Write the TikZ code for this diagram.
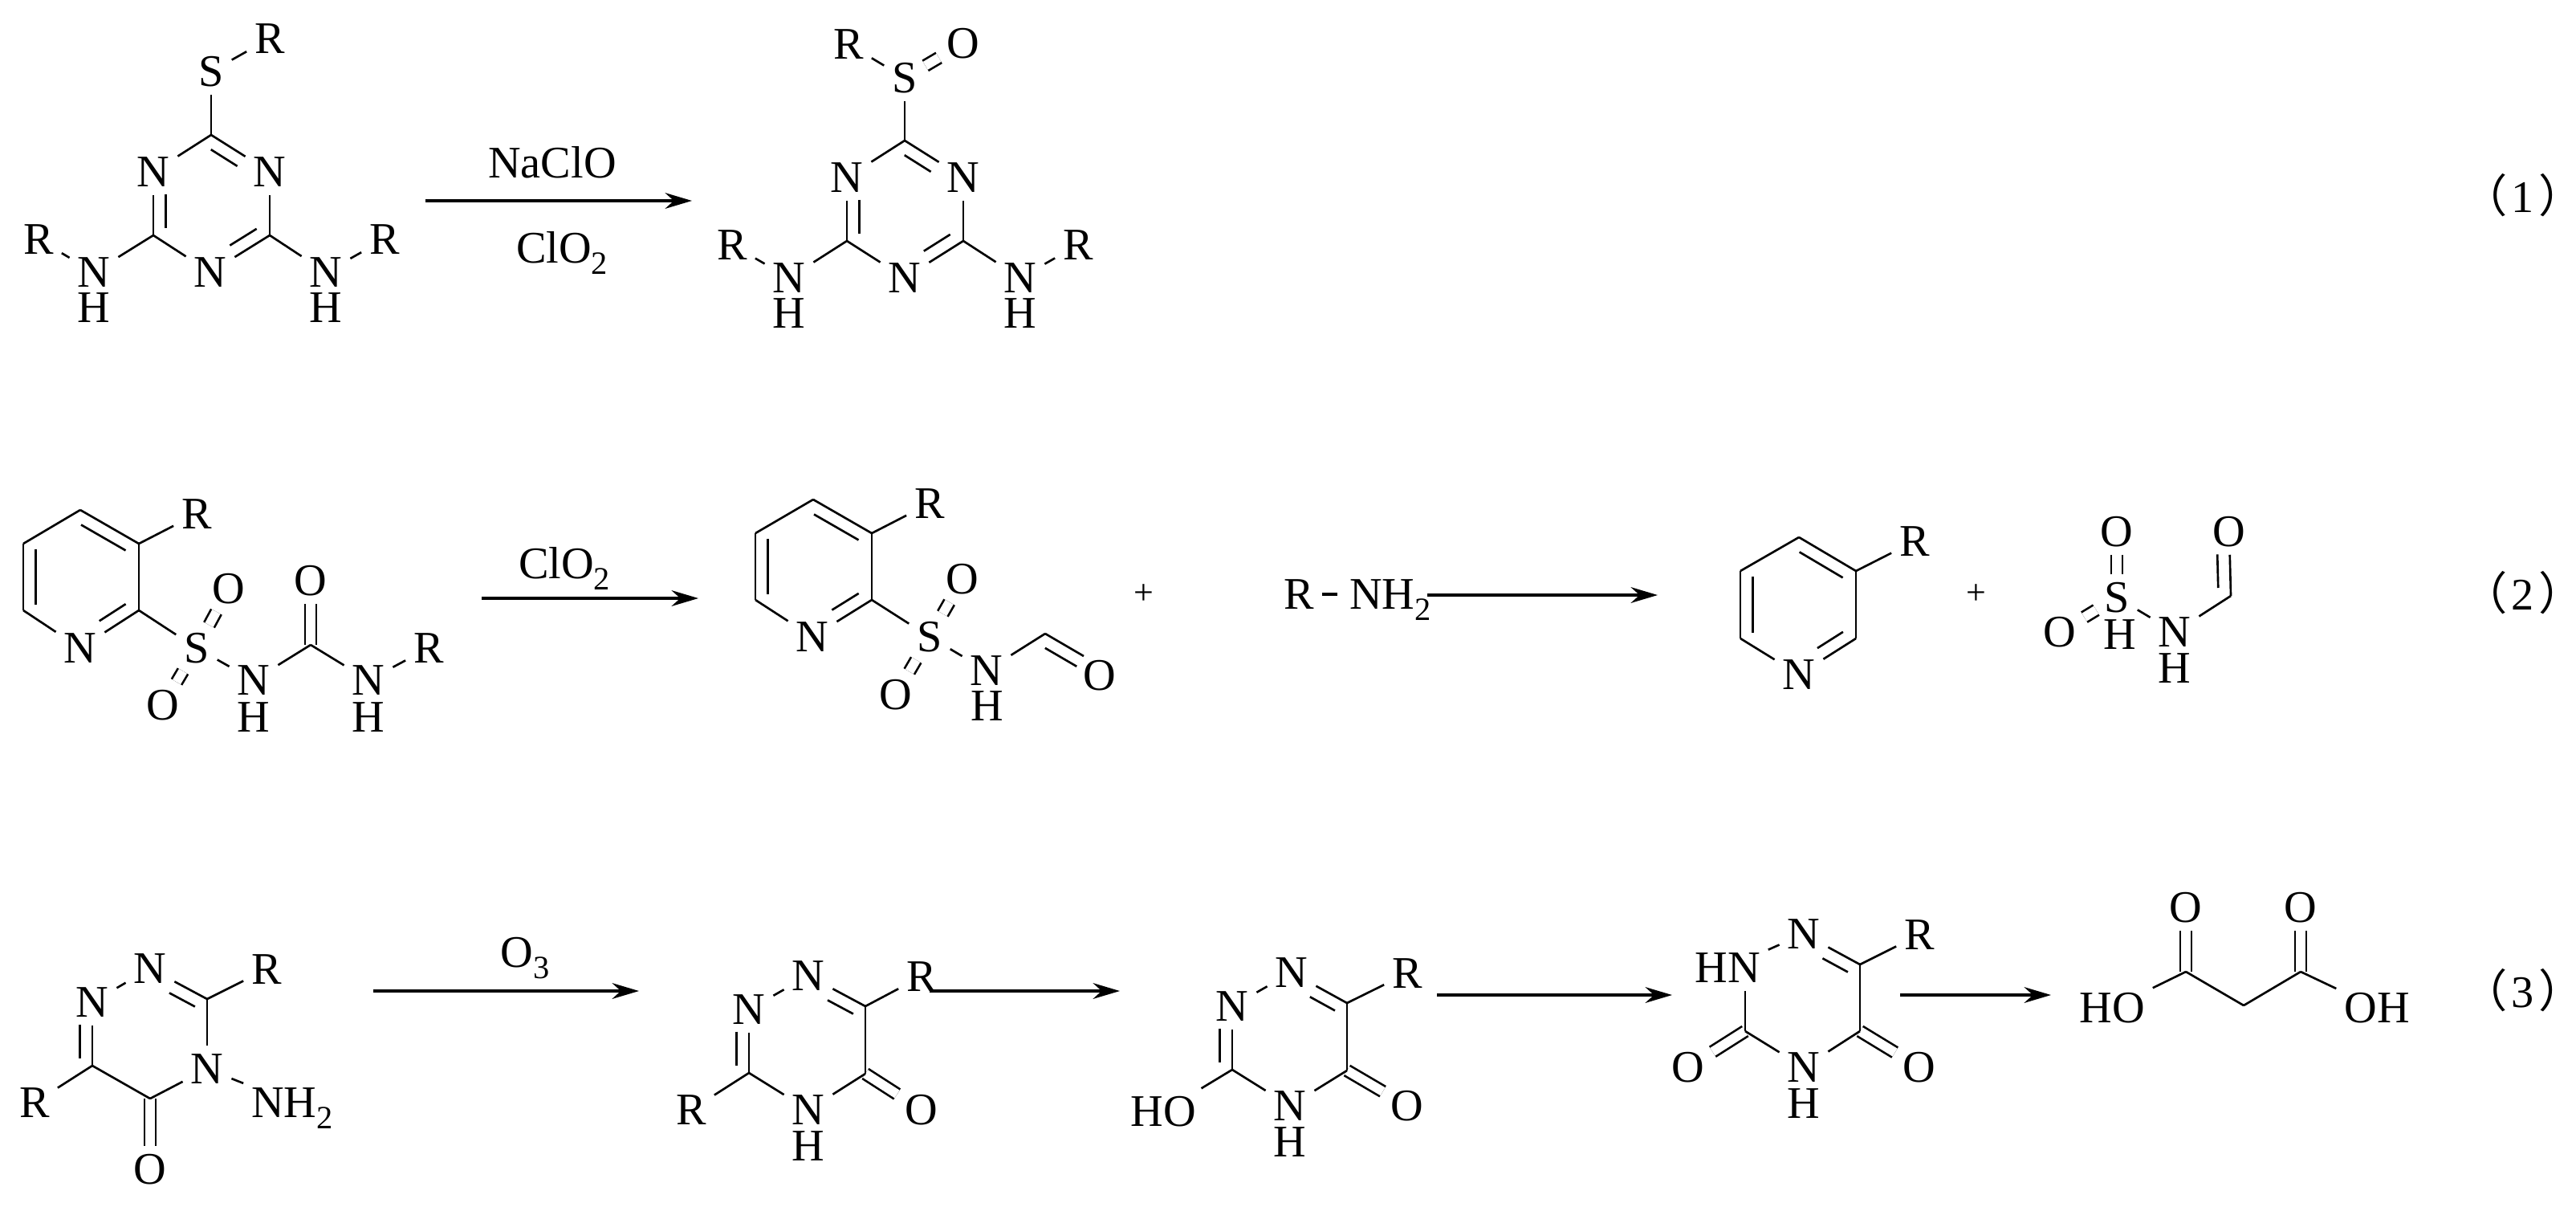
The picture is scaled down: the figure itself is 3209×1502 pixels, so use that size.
\documentclass[tikz,border=0pt]{standalone}
\usepackage{fontspec}
\setmainfont{Liberation Serif}
\newfontfamily\cjk{Noto Sans CJK SC}
\usepackage{tikz}
\usetikzlibrary{positioning,arrows.meta,calc}
\tikzset{every picture/.style={line width=0.75pt}}
\tikzset{every node/.style={font=\fontsize{16}{19}\selectfont}}
\tikzset{atom/.style={inner sep=2.5pt,text height=10.6pt,text depth=0pt}}
\tikzset{rxn/.style={line width=1.1pt,-{Stealth[length=9.5pt,width=5.6pt]}}}
\tikzset{twobond/.style={double,double distance=0.115cm}}
\tikzset{plussign/.style={font=\fontsize{12.5}{14}\selectfont}}
\tikzset{numlabel/.style={inner sep=0pt}}
\newcommand{\low}[1]{\raisebox{-0.24em}{\fontsize{11.5}{12}\selectfont #1}}
\newcommand{\wide}[1]{\kern-0.35em{\cjk （}\kern1.5pt #1\kern1.5pt{\cjk ）}\kern-0.35em}
\newcommand{\inbond}[5]{\draw (#1) -- (#2); \draw ($(#1)!#3!(#2)!0.155cm!#5:(#2)$) -- ($(#1)!#4!(#2)!0.155cm!#5:(#2)$);}
\begin{document}
\begin{tikzpicture}[x=0.01cm,y=-0.01cm]
\useasboundingbox (0,0) rectangle (3209,1502);
\node[atom] (aS) at (263,89) {S};
\node[atom] (aR) at (336,48) {R};
\node[atom] (aN1) at (191,214) {N};
\node[atom] (aN2) at (336,214) {N};
\node[atom] (aN3) at (262,339) {N};
\node[atom] (aN4) at (117,339) {N};
\node[atom] (aH4) at (117,383) {H};
\node[atom] (aR4) at (48,298) {R};
\node[atom] (aN5) at (406,339) {N};
\node[atom] (aH5) at (406,383) {H};
\node[atom] (aR5) at (479,298) {R};
\coordinate (a1) at (263,168);
\coordinate (a2) at (191,293);
\coordinate (a3) at (336,293);
\draw (aS) -- (aR);
\draw (aS) -- (a1);
\draw (a1) -- (aN1);
\inbond{a1}{aN2}{0.11}{0.56}{-90}
\inbond{aN1}{a2}{0.35}{0.89}{90}
\draw (aN2) -- (a3);
\draw (a2) -- (aN3);
\inbond{a3}{aN3}{0.11}{0.56}{-90}
\draw (a2) -- (aN4);
\draw (a3) -- (aN5);
\draw (aN4) -- (aR4);
\draw (aN5) -- (aR5);
\coordinate (r1) at (530,250);
\coordinate (r2) at (862,250);
\draw[rxn] (r1) -- (r2);
\node (naclo) at (688,202) {NaClO};
\node (clo1) at (700,315) {ClO\low{2}};
\node[atom] (bS) at (1127,97) {S};
\node[atom] (bR) at (1057,55) {R};
\node[atom] (bO) at (1200,54) {O};
\node[atom] (bN1) at (1055,221) {N};
\node[atom] (bN2) at (1200,221) {N};
\node[atom] (bN3) at (1127,346) {N};
\node[atom] (bN4) at (983,346) {N};
\node[atom] (bH4) at (983,390) {H};
\node[atom] (bR4) at (912,305) {R};
\node[atom] (bN5) at (1271,346) {N};
\node[atom] (bH5) at (1271,390) {H};
\node[atom] (bR5) at (1343,305) {R};
\coordinate (b1) at (1127,175);
\coordinate (b2) at (1055,300);
\coordinate (b3) at (1200,300);
\draw[twobond] (bS) -- (bO);
\draw (bS) -- (bR);
\draw (bS) -- (b1);
\draw (b1) -- (bN1);
\inbond{b1}{bN2}{0.11}{0.56}{-90}
\inbond{bN1}{b2}{0.35}{0.89}{90}
\draw (bN2) -- (b3);
\draw (b2) -- (bN3);
\inbond{b3}{bN3}{0.11}{0.56}{-90}
\draw (b2) -- (bN4);
\draw (b3) -- (bN5);
\draw (bN4) -- (bR4);
\draw (bN5) -- (bR5);
\node[numlabel] (lab1) at (3143,243) {\wide{1}};
\node[atom] (cN) at (100,807) {N};
\node[atom] (cR) at (245,640) {R};
\node[atom] (cS) at (245,807) {S};
\node[atom] (cO1) at (285,733) {O};
\node[atom] (cO2) at (203,878) {O};
\node[atom] (cN1) at (316,847) {N};
\node[atom] (cH1) at (316,893) {H};
\node[atom] (cO3) at (387,723) {O};
\node[atom] (cN2) at (459,847) {N};
\node[atom] (cH2) at (459,893) {H};
\node[atom] (cR2) at (534,807) {R};
\coordinate (c1) at (100,635);
\coordinate (c2) at (173,677);
\coordinate (c3) at (173,760);
\coordinate (c5) at (29,760);
\coordinate (c6) at (29,677);
\coordinate (c7) at (387,803);
\draw[twobond] (cS) -- (cO1);
\draw[twobond] (cS) -- (cO2);
\draw[twobond] (c7) -- (cO3);
\inbond{c1}{c2}{0.12}{0.88}{-90}
\inbond{c6}{c5}{0.08}{0.92}{90}
\inbond{c3}{cN}{0.11}{0.56}{-90}
\draw (c1) -- (c6);
\draw (c2) -- (c3);
\draw (c5) -- (cN);
\draw (c2) -- (cR);
\draw (c3) -- (cS);
\draw (cS) -- (cN1);
\draw (cN1) -- (c7);
\draw (c7) -- (cN2);
\draw (cN2) -- (cR2);
\coordinate (r3) at (600,745);
\coordinate (r4) at (870,745);
\draw[rxn] (r3) -- (r4);
\node (clo2) at (703,708) {ClO\low{2}};
\node[atom] (dN) at (1012,793) {N};
\node[atom] (dR) at (1158,627) {R};
\node[atom] (dS) at (1158,793) {S};
\node[atom] (dO1) at (1199,721) {O};
\node[atom] (dO2) at (1116,865) {O};
\node[atom] (dN1) at (1229,835) {N};
\node[atom] (dH) at (1230,879) {H};
\node[atom] (dO3) at (1370,841) {O};
\coordinate (d1) at (1013,622);
\coordinate (d2) at (1086,664);
\coordinate (d3) at (1086,747);
\coordinate (d5) at (941,747);
\coordinate (d6) at (941,664);
\coordinate (d7) at (1302,789);
\coordinate (d8) at (1350,817);
\draw[twobond] (dS) -- (dO1);
\draw[twobond] (dS) -- (dO2);
\inbond{d1}{d2}{0.12}{0.88}{-90}
\inbond{d6}{d5}{0.08}{0.92}{90}
\inbond{d3}{dN}{0.11}{0.56}{-90}
\inbond{d7}{d8}{0.16}{0.98}{-90}
\draw (d1) -- (d6);
\draw (d2) -- (d3);
\draw (d5) -- (dN);
\draw (d2) -- (dR);
\draw (d3) -- (dS);
\draw (dS) -- (dN1);
\draw (dN1) -- (d7);
\node[plussign] (plus1) at (1425,740) {+};
\node[atom] (eR) at (1618,740) {R};
\node[atom] (eN) at (1732,740) {NH\low{2}};
\draw[line width=1pt,shorten >=1.5pt] (eR) -- (eN);
\coordinate (r5) at (1778,741);
\coordinate (r6) at (2065,741);
\draw[rxn] (r5) -- (r6);
\node[atom] (fN) at (2241,840) {N};
\node[atom] (fR) at (2385,674) {R};
\coordinate (f1) at (2241,669);
\coordinate (f2) at (2312,711);
\coordinate (f3) at (2312,795);
\coordinate (f5) at (2168,795);
\coordinate (f6) at (2168,711);
\inbond{f1}{f2}{0.12}{0.88}{-90}
\inbond{f6}{f5}{0.08}{0.92}{90}
\inbond{f3}{fN}{0.11}{0.56}{-90}
\draw (f1) -- (f6);
\draw (f2) -- (f3);
\draw (f5) -- (fN);
\draw (f2) -- (fR);
\node[plussign] (plus2) at (2462,740) {+};
\node[atom] (gS) at (2637,744) {S};
\node[atom] (gO1) at (2637,662) {O};
\node[atom] (gO2) at (2566,787) {O};
\node[atom] (gH1) at (2641,790) {H};
\node[atom] (gN) at (2709,787) {N};
\node[atom] (gH2) at (2709,832) {H};
\node[atom] (gO3) at (2777,662) {O};
\coordinate (g1) at (2779,742);
\draw[twobond] (gS) -- (gO1);
\draw[twobond] (gS) -- (gO2);
\inbond{g1}{gO3}{0.13}{0.65}{90}
\draw (gS) -- (gN);
\draw (gN) -- (g1);
\node[numlabel] (lab2) at (3143,738) {\wide{2}};
\node[atom] (hN1) at (187,1206) {N};
\node[atom] (hR1) at (332,1207) {R};
\node[atom] (hN2) at (115,1248) {N};
\node[atom] (hR2) at (43,1373) {R};
\node[atom] (hO) at (187,1456) {O};
\node[atom] (hN3) at (258,1331) {N};
\node[atom] (hN4) at (364,1373) {NH\low{2}};
\coordinate (h1) at (258,1244);
\coordinate (h2) at (115,1327);
\coordinate (h3) at (187,1368);
\draw[twobond] (h3) -- (hO);
\draw (hN1) -- (hN2);
\inbond{h1}{hN1}{0.11}{0.56}{90}
\draw (h1) -- (hR1);
\draw (h1) -- (hN3);
\inbond{hN2}{h2}{0.35}{0.89}{-90}
\draw (h2) -- (hR2);
\draw (h2) -- (h3);
\draw (h3) -- (hN3);
\draw (hN3) -- (hN4);
\coordinate (r7) at (465,1234);
\coordinate (r8) at (796,1234);
\draw[rxn] (r7) -- (r8);
\node (o3) at (654,1193) {O\low{3}};
\node[atom] (iN1) at (1007,1215) {N};
\node[atom] (iR1) at (1148,1216) {R};
\node[atom] (iN2) at (933,1257) {N};
\node[atom] (iR2) at (861,1382) {R};
\node[atom] (iN3) at (1007,1382) {N};
\node[atom] (iH) at (1007,1427) {H};
\node[atom] (iO) at (1148,1382) {O};
\coordinate (i1) at (1078,1253);
\coordinate (i2) at (933,1336);
\coordinate (i3) at (1078,1337);
\draw[twobond] (i3) -- (iO);
\draw (iN1) -- (iN2);
\inbond{i1}{iN1}{0.11}{0.56}{90}
\draw (i1) -- (iR1);
\draw (i1) -- (i3);
\inbond{iN2}{i2}{0.35}{0.89}{-90}
\draw (i2) -- (iR2);
\draw (i2) -- (iN3);
\draw (i3) -- (iN3);
\coordinate (r9) at (1158,1234);
\coordinate (r10) at (1395,1234);
\draw[rxn] (r9) -- (r10);
\node[atom] (jN1) at (1609,1211) {N};
\node[atom] (jR1) at (1753,1212) {R};
\node[atom] (jN2) at (1535,1253) {N};
\node[atom] (jHO) at (1449,1384) {HO};
\node[atom] (jN3) at (1607,1377) {N};
\node[atom] (jH) at (1607,1422) {H};
\node[atom] (jO) at (1753,1377) {O};
\coordinate (j1) at (1678,1249);
\coordinate (j2) at (1535,1332);
\coordinate (j3) at (1678,1333);
\draw[twobond] (j3) -- (jO);
\draw (jN1) -- (jN2);
\inbond{j1}{jN1}{0.11}{0.56}{90}
\draw (j1) -- (jR1);
\draw (j1) -- (j3);
\inbond{jN2}{j2}{0.35}{0.89}{-90}
\draw (j2) -- (jHO);
\draw (j2) -- (jN3);
\draw (j3) -- (jN3);
\coordinate (r11) at (1790,1239);
\coordinate (r12) at (2083,1239);
\draw[rxn] (r11) -- (r12);
\node[atom] (kN1) at (2247,1163) {N};
\node[atom] (kR) at (2391,1164) {R};
\node[atom] (kHN) at (2152,1205) {HN};
\node[atom] (kO1) at (2103,1329) {O};
\node[atom] (kO2) at (2391,1329) {O};
\node[atom] (kN2) at (2247,1329) {N};
\node[atom] (kH) at (2247,1374) {H};
\coordinate (k1) at (2317,1201);
\coordinate (k2) at (2174,1284);
\coordinate (k3) at (2317,1284);
\draw[twobond] (k2) -- (kO1);
\draw[twobond] (k3) -- (kO2);
\draw (kN1) -- (kHN);
\inbond{k1}{kN1}{0.11}{0.56}{90}
\draw (k1) -- (kR);
\draw (k1) -- (k3);
\draw (kHN.south -| k2) -- (k2);
\draw (k2) -- (kN2);
\draw (k3) -- (kN2);
\coordinate (r13) at (2367,1239);
\coordinate (r14) at (2555,1239);
\draw[rxn] (r13) -- (r14);
\node[atom] (mO1) at (2723,1130) {O};
\node[atom] (mO2) at (2866,1130) {O};
\node[atom] (mHO) at (2631,1255) {HO};
\node[atom] (mOH) at (2961,1255) {OH};
\coordinate (m1) at (2723,1210);
\coordinate (m2) at (2866,1210);
\coordinate (m3) at (2795,1252);
\draw[twobond] (m1) -- (mO1);
\draw[twobond] (m2) -- (mO2);
\draw (m1) -- (mHO);
\draw (m1) -- (m3);
\draw (m3) -- (m2);
\draw (m2) -- (mOH);
\node[numlabel] (lab3) at (3143,1233) {\wide{3}};
\end{tikzpicture}
\end{document}
